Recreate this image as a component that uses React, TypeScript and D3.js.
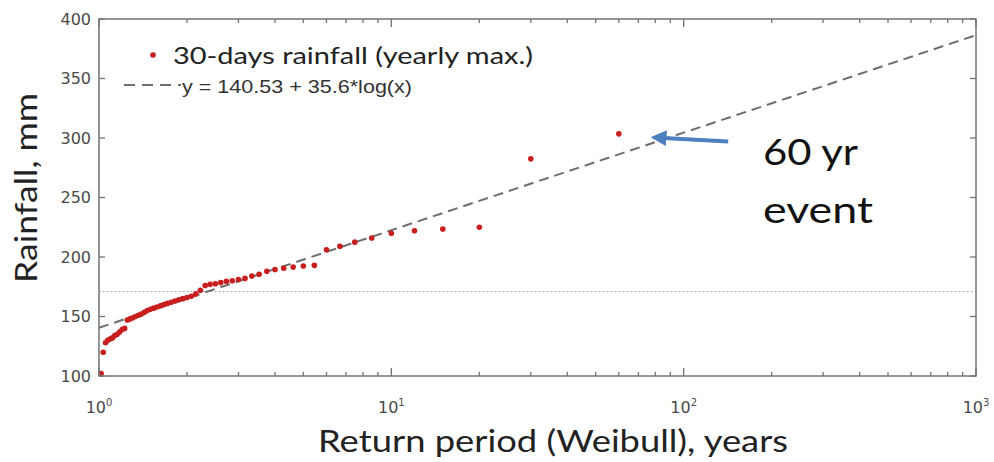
import React from "react";
import * as d3 from "d3";

// Weibull return periods (years) and the matching yearly max 30-day rainfall (mm)
const returnPeriod = [
  60, 30, 20, 15, 12, 10, 8.571, 7.5, 6.667, 6, 5.455, 5, 4.615, 4.286, 4,
  3.75, 3.529, 3.333, 3.158, 3, 2.857, 2.727, 2.609, 2.5, 2.4, 2.308, 2.222,
  2.143, 2.069, 2, 1.935, 1.875, 1.818, 1.765, 1.714, 1.667, 1.622, 1.579,
  1.538, 1.5, 1.463, 1.429, 1.395, 1.364, 1.333, 1.304, 1.277, 1.25, 1.224,
  1.2, 1.176, 1.154, 1.132, 1.111, 1.091, 1.071, 1.053, 1.034, 1.017,
];
const rainfall = [
  303.5, 282.5, 225, 223.5, 222, 220, 216, 212.5, 209, 206, 193, 192.5, 191.5,
  190.5, 189.5, 188, 185.5, 184, 182, 181, 180, 179.5, 178.5, 177.5, 177, 176,
  172, 169, 167, 166, 165, 164, 163, 162, 161, 160, 159, 158, 157, 156, 155,
  153.5, 152, 151, 150, 149, 148, 147, 140, 139, 137, 135, 134, 132, 131, 130,
  128, 120, 102,
];

// fitted line y = a + b*ln(x)
const fitA = 140.53;
const fitB = 35.6;
const fitRange = [1, 1000];

const thresholdLevel = 171;
const yTicks = [100, 150, 200, 250, 300, 350, 400];
const xDecades = [1, 10, 100, 1000];

// annotation arrow in data units [T, mm]
const arrowFrom = [142, 297];
const arrowTo = [80, 300];

const W = 994,
  H = 462;
const left = 99,
  right = 976,
  top = 19,
  bottom = 376;

export default function App() {
  const x = d3.scaleLog().domain([1, 1000]).range([left, right]);
  const y = d3.scaleLinear().domain([100, 400]).range([bottom, top]);

  const fitLine = d3
    .line<number>()
    .x((d) => x(d))
    .y((d) => y(fitA + fitB * Math.log(d)))(fitRange);

  const axisColor = "#737373";
  const labelColor = "#4a4a4a";

  const allTicks = x.ticks();
  const isMajor = (t: number) => Math.abs(Math.log10(t) - Math.round(Math.log10(t))) < 1e-9;

  return (
    <svg
      width={W}
      height={H}
      style={{ position: "absolute", left: 0, top: 0, background: "#fff" }}
    >
      <defs>
        <marker
          id="head"
          viewBox="0 0 10 10"
          refX="2"
          refY="5"
          markerWidth="4"
          markerHeight="4"
          orient="auto"
        >
          <path d="M0,0 L10,5 L0,10 z" fill="#4f7fbf" />
        </marker>
      </defs>

      {/* dotted reference level */}
      <line
        x1={left}
        x2={right}
        y1={y(thresholdLevel)}
        y2={y(thresholdLevel)}
        stroke="#999"
        strokeWidth={1.2}
        strokeDasharray="1.5 2.5"
      />

      {/* fit line */}
      <path d={fitLine || ""} fill="none" stroke="#6e6e6e" strokeWidth={2} strokeDasharray="10 6" />

      {/* data points */}
      {returnPeriod.map((t, i) => (
        <circle key={i} cx={x(t)} cy={y(rainfall[i])} r={2.8} fill="#c81e1e" />
      ))}

      {/* axes box */}
      <rect
        x={left}
        y={top}
        width={right - left}
        height={bottom - top}
        fill="none"
        stroke={axisColor}
        strokeWidth={1.5}
      />

      {/* y ticks */}
      {yTicks.map((v) => (
        <g key={v}>
          <line x1={left} x2={left + 6} y1={y(v)} y2={y(v)} stroke={axisColor} strokeWidth={1.3} />
          <line x1={right} x2={right - 6} y1={y(v)} y2={y(v)} stroke={axisColor} strokeWidth={1.3} />
          <text
            x={left - 8}
            y={y(v)}
            dy="0.36em"
            textAnchor="end"
            fontFamily="DejaVu Sans"
            fontSize={16}
            fill={labelColor}
          >
            {v}
          </text>
        </g>
      ))}

      {/* x ticks */}
      {allTicks.map((t, i) => {
        const len = isMajor(t) ? 8 : 4;
        return (
          <g key={i}>
            <line x1={x(t)} x2={x(t)} y1={bottom} y2={bottom - len} stroke={axisColor} strokeWidth={1.3} />
            <line x1={x(t)} x2={x(t)} y1={top} y2={top + len} stroke={axisColor} strokeWidth={1.3} />
          </g>
        );
      })}
      {xDecades.map((t) => (
        <text
          key={t}
          x={x(t)}
          y={413}
          textAnchor="middle"
          fontFamily="DejaVu Sans"
          fontSize={16}
          fill={labelColor}
        >
          10
          <tspan fontSize={10} dy={-7}>
            {Math.round(Math.log10(t))}
          </tspan>
        </text>
      ))}

      {/* axis titles */}
      <text
        x={318}
        y={452}
        fontFamily="Lato"
        fontSize={30}
        textLength={470}
        lengthAdjust="spacingAndGlyphs"
        fill="#222"
      >
        Return period (Weibull), years
      </text>
      <text
        transform="translate(37,283) rotate(-90)"
        fontFamily="Lato"
        fontSize={30}
        textLength={190}
        lengthAdjust="spacingAndGlyphs"
        fill="#222"
      >
        Rainfall, mm
      </text>

      {/* legend */}
      <circle cx={153} cy={55} r={2.8} fill="#c81e1e" />
      <text
        x={173}
        y={64}
        fontFamily="Lato"
        fontSize={24}
        textLength={360}
        lengthAdjust="spacingAndGlyphs"
        fill="#222"
      >
        30-days rainfall (yearly max.)
      </text>
      <line x1={124} x2={181} y1={85} y2={85} stroke="#6e6e6e" strokeWidth={2} strokeDasharray="11 7" />
      <text
        x={182}
        y={93}
        fontFamily="Liberation Sans"
        fontSize={18}
        textLength={230}
        lengthAdjust="spacingAndGlyphs"
        fill="#333"
      >
        y = 140.53 + 35.6*log(x)
      </text>

      {/* annotation */}
      <line
        x1={x(arrowFrom[0])}
        y1={y(arrowFrom[1])}
        x2={x(arrowTo[0]) + 8}
        y2={y(arrowTo[1])}
        stroke="#4f7fbf"
        strokeWidth={4}
        markerEnd="url(#head)"
      />
      <text
        x={763}
        y={165}
        fontFamily="Lato"
        fontSize={37}
        textLength={95}
        lengthAdjust="spacingAndGlyphs"
        fill="#111"
      >
        60 yr
      </text>
      <text
        x={763}
        y={223}
        fontFamily="Lato"
        fontSize={37}
        textLength={110}
        lengthAdjust="spacingAndGlyphs"
        fill="#111"
      >
        event
      </text>
    </svg>
  );
}
